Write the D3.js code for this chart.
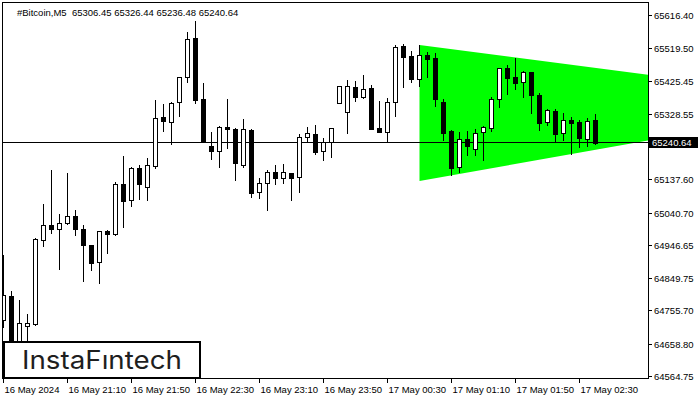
<!DOCTYPE html>
<html lang="en">
<head>
<meta charset="UTF-8">
<title>#Bitcoin,M5</title>
<script src="https://cdn.jsdelivr.net/npm/d3@7"></script>
<style>
body { margin: 0; background: #fff; }
svg { display: block; font-family: "Liberation Sans", Arial, sans-serif; }
</style>
</head>
<body>
<svg width="700" height="400"></svg>
<script>
// M5 bars, 16 May 2024 20:30 .. 17 May 2024 02:40
var openP = [64724.98, 64794.89, 64652.15, 64707.50, 64713.32, 64957.16, 65000.86, 64989.20, 65006.68, 65027.95,
    64990.08, 64942.59, 64893.07, 64983.38, 64974.64, 65121.17, 65074.56, 65166.91, 65111.56, 65173.61,
    65316.36, 65300.92, 65359.18, 65432.01, 65546.50, 65368.79, 65231.87, 65218.18, 65287.22, 65281.40,
    65176.52, 65278.48, 65098.74, 65123.21, 65155.26, 65139.52, 65152.34, 65140.69, 65257.22, 65265.96,
    65218.18, 65242.65, 65356.27, 65330.05, 65402.88, 65375.49, 65399.96, 65283.44, 65273.53, 65359.18,
    65523.19, 65494.06, 65426.18, 65496.97, 65487.36, 65360.05, 65275.57, 65169.82, 65252.27, 65224.01,
    65271.78, 65285.18, 65367.92, 65459.10, 65432.01, 65417.44, 65446.58, 65379.57, 65300.92, 65333.83,
    65268.87, 65307.62, 65301.79, 65253.14, 65306.45];
var highP = [64914.33, 64810.33, 64783.24, 64742.46, 64962.98, 65062.91, 65161.96, 65033.78, 65152.34, 65045.43,
    65001.73, 64942.59, 64985.12, 64985.71, 65126.12, 65202.74, 65169.24, 65176.52, 65196.04, 65365.88,
    65354.23, 65360.93, 65432.01, 65563.10, 65596.02, 65415.40, 65271.78, 65290.14, 65368.79, 65282.85,
    65310.53, 65281.40, 65137.78, 65161.96, 65176.52, 65179.44, 65153.22, 65266.83, 65286.35, 65293.05,
    65254.30, 65284.31, 65407.54, 65423.27, 65421.23, 65438.71, 65409.58, 65362.97, 65370.83, 65526.11,
    65528.15, 65507.75, 65526.11, 65505.71, 65501.93, 65368.79, 65277.03, 65271.78, 65275.57, 65281.40,
    65291.01, 65375.49, 65459.98, 65467.84, 65488.23, 65450.36, 65447.45, 65385.40, 65338.79, 65338.79,
    65327.13, 65315.48, 65307.62, 65312.57, 65326.44];
var lowP = [64705.46, 64631.75, 64637.58, 64655.06, 64710.41, 64941.43, 64979.30, 64872.67, 65003.77, 64972.60,
    64839.46, 64870.64, 64833.64, 64921.03, 64972.60, 64996.78, 65057.95, 65077.47, 65074.56, 65166.91,
    65275.57, 65236.83, 65320.14, 65419.19, 65358.01, 65242.65, 65193.13, 65171.57, 65226.92, 65132.82,
    65171.57, 65084.17, 65081.26, 65045.43, 65120.30, 65123.21, 65074.56, 65098.74, 65244.40, 65207.69,
    65191.09, 65200.70, 65356.27, 65270.62, 65363.84, 65372.58, 65282.27, 65273.53, 65242.65, 65320.14,
    65404.63, 65418.32, 65407.54, 65433.76, 65349.27, 65249.35, 65147.39, 65157.00, 65205.65, 65205.65,
    65191.09, 65276.44, 65346.36, 65383.36, 65397.93, 65375.49, 65328.88, 65278.48, 65293.05, 65246.44,
    65249.35, 65208.57, 65229.83, 65232.75, 65236.48];
var closeP = [64797.81, 64652.15, 64715.36, 64715.36, 64960.07, 65000.86, 64989.20, 65006.68, 65027.95, 64990.08,
    64942.59, 64890.15, 64983.38, 64975.51, 65121.17, 65070.77, 65166.91, 65120.30, 65176.52, 65312.57,
    65305.58, 65356.27, 65432.01, 65543.59, 65365.88, 65242.65, 65218.18, 65288.10, 65282.27, 65183.22,
    65280.52, 65095.83, 65123.21, 65155.26, 65139.52, 65155.26, 65139.52, 65257.22, 65268.87, 65215.27,
    65242.65, 65283.44, 65407.54, 65407.54, 65375.49, 65398.80, 65282.27, 65273.53, 65359.18, 65519.41,
    65492.02, 65426.18, 65496.97, 65486.20, 65367.92, 65270.62, 65168.66, 65251.39, 65232.75, 65268.87,
    65286.35, 65367.92, 65458.23, 65430.84, 65416.28, 65446.58, 65379.57, 65299.75, 65335.87, 65267.70,
    65307.62, 65299.75, 65256.05, 65304.70, 65240.64];

var timeTicks = [0, 8, 16, 24, 32, 40, 48, 56, 64, 72];
var timeLabels = ['16 May 2024', '16 May 21:10', '16 May 21:50', '16 May 22:30', '16 May 23:10',
    '16 May 23:50', '17 May 00:30', '17 May 01:10', '17 May 01:50', '17 May 02:30'];
var priceTicks = [65616.40, 65519.50, 65425.45, 65328.55, 65137.60, 65040.70, 64946.65, 64849.75, 64755.70, 64658.80, 64564.75];
var lastPrice = 65240.64;
// triangle pattern: [bar index, price]
var triangle = [[52, 65526.11], [52, 65129.91], [107.4, 65358.31]];

var svg = d3.select('svg');
var L = 3, R = 648, T = 3, B = 378;

var x = d3.scaleLinear().domain([0, 74]).range([3.5, 595.5]);
var y = d3.scaleLinear().domain([64564.75, 65616.40]).range([375, 14]);
var ry = function(v) { return Math.round(y(v)); };

svg.append('defs').append('clipPath').attr('id', 'plot')
    .append('rect').attr('x', L).attr('y', T).attr('width', R - L).attr('height', B - T);

var plot = svg.append('g').attr('clip-path', 'url(#plot)');

plot.append('polygon')
    .attr('points', triangle.map(function(d) { return x(d[0]) + ',' + y(d[1]); }).join(' '))
    .attr('fill', '#00ff00');

plot.append('line')
    .attr('x1', L).attr('x2', R)
    .attr('y1', ry(lastPrice) - 0.5).attr('y2', ry(lastPrice) - 0.5)
    .attr('stroke', '#000').attr('stroke-width', 1);

var bars = plot.selectAll('g.bar').data(openP).enter().append('g').attr('class', 'bar');
bars.append('line')
    .attr('x1', function(d, i) { return x(i); })
    .attr('x2', function(d, i) { return x(i); })
    .attr('y1', function(d, i) { return ry(highP[i]); })
    .attr('y2', function(d, i) { return ry(lowP[i]) + 1; })
    .attr('stroke', '#000');
bars.append('rect')
    .attr('x', function(d, i) { return x(i) - 2; })
    .attr('width', 4)
    .attr('y', function(d, i) { return Math.min(ry(openP[i]), ry(closeP[i])) + 0.5; })
    .attr('height', function(d, i) { return Math.abs(ry(openP[i]) - ry(closeP[i])); })
    .attr('fill', function(d, i) { return closeP[i] >= openP[i] ? '#fff' : '#000'; })
    .attr('stroke', '#000');

// frame
svg.append('rect')
    .attr('x', L - 0.5).attr('y', T - 0.5).attr('width', R - L + 1).attr('height', B - T + 1)
    .attr('fill', 'none').attr('stroke', '#000');

// price axis
var pa = svg.append('g');
priceTicks.forEach(function(v) {
    var yy = ry(v) + 1.5;
    pa.append('line').attr('x1', R + 1).attr('x2', R + 4).attr('y1', yy).attr('y2', yy).attr('stroke', '#000');
    pa.append('text').attr('x', 654).attr('y', yy).attr('dy', '0.35em')
        .attr('font-size', '9.5px').attr('fill', '#000').text(v.toFixed(2));
});
var ly = ry(lastPrice);
pa.append('rect').attr('x', R + 1).attr('y', ly - 6).attr('width', 49).attr('height', 11).attr('fill', '#000');
pa.append('text').attr('x', 652).attr('y', ly).attr('dy', '0.35em')
    .attr('font-size', '9.5px').attr('fill', '#fff').text(lastPrice.toFixed(2));

// time axis
var ta = svg.append('g');
timeTicks.forEach(function(t, k) {
    var xx = Math.round(x(t)) - 0.5;
    ta.append('line').attr('x1', xx).attr('x2', xx).attr('y1', B).attr('y2', B + 5).attr('stroke', '#000');
    ta.append('text').attr('x', xx + 1).attr('y', 393)
        .attr('font-size', '9.5px').attr('fill', '#000').text(timeLabels[k]);
});

// title
svg.append('text').attr('x', 17).attr('y', 15.5).attr('font-size', '9.5px').attr('fill', '#000')
    .attr('xml:space', 'preserve')
    .text('#Bitcoin,M5  ' + [openP[74], highP[74], lowP[74], closeP[74]].map(function(v) { return v.toFixed(2); }).join(' '));

// logo
var logo = svg.append('g');
logo.append('rect').attr('x', 4).attr('y', 342).attr('width', 196).attr('height', 36)
    .attr('fill', '#fff').attr('stroke', '#000').attr('stroke-width', 2);
logo.append('text').attr('x', 22).attr('y', 368.5)
    .attr('font-family', 'Inter, "Open Sans", sans-serif').attr('font-size', '25px')
    .attr('fill', '#1e1e1e').attr('textLength', 160).attr('lengthAdjust', 'spacingAndGlyphs')
    .text('InstaFıntech');
</script>
</body>
</html>
